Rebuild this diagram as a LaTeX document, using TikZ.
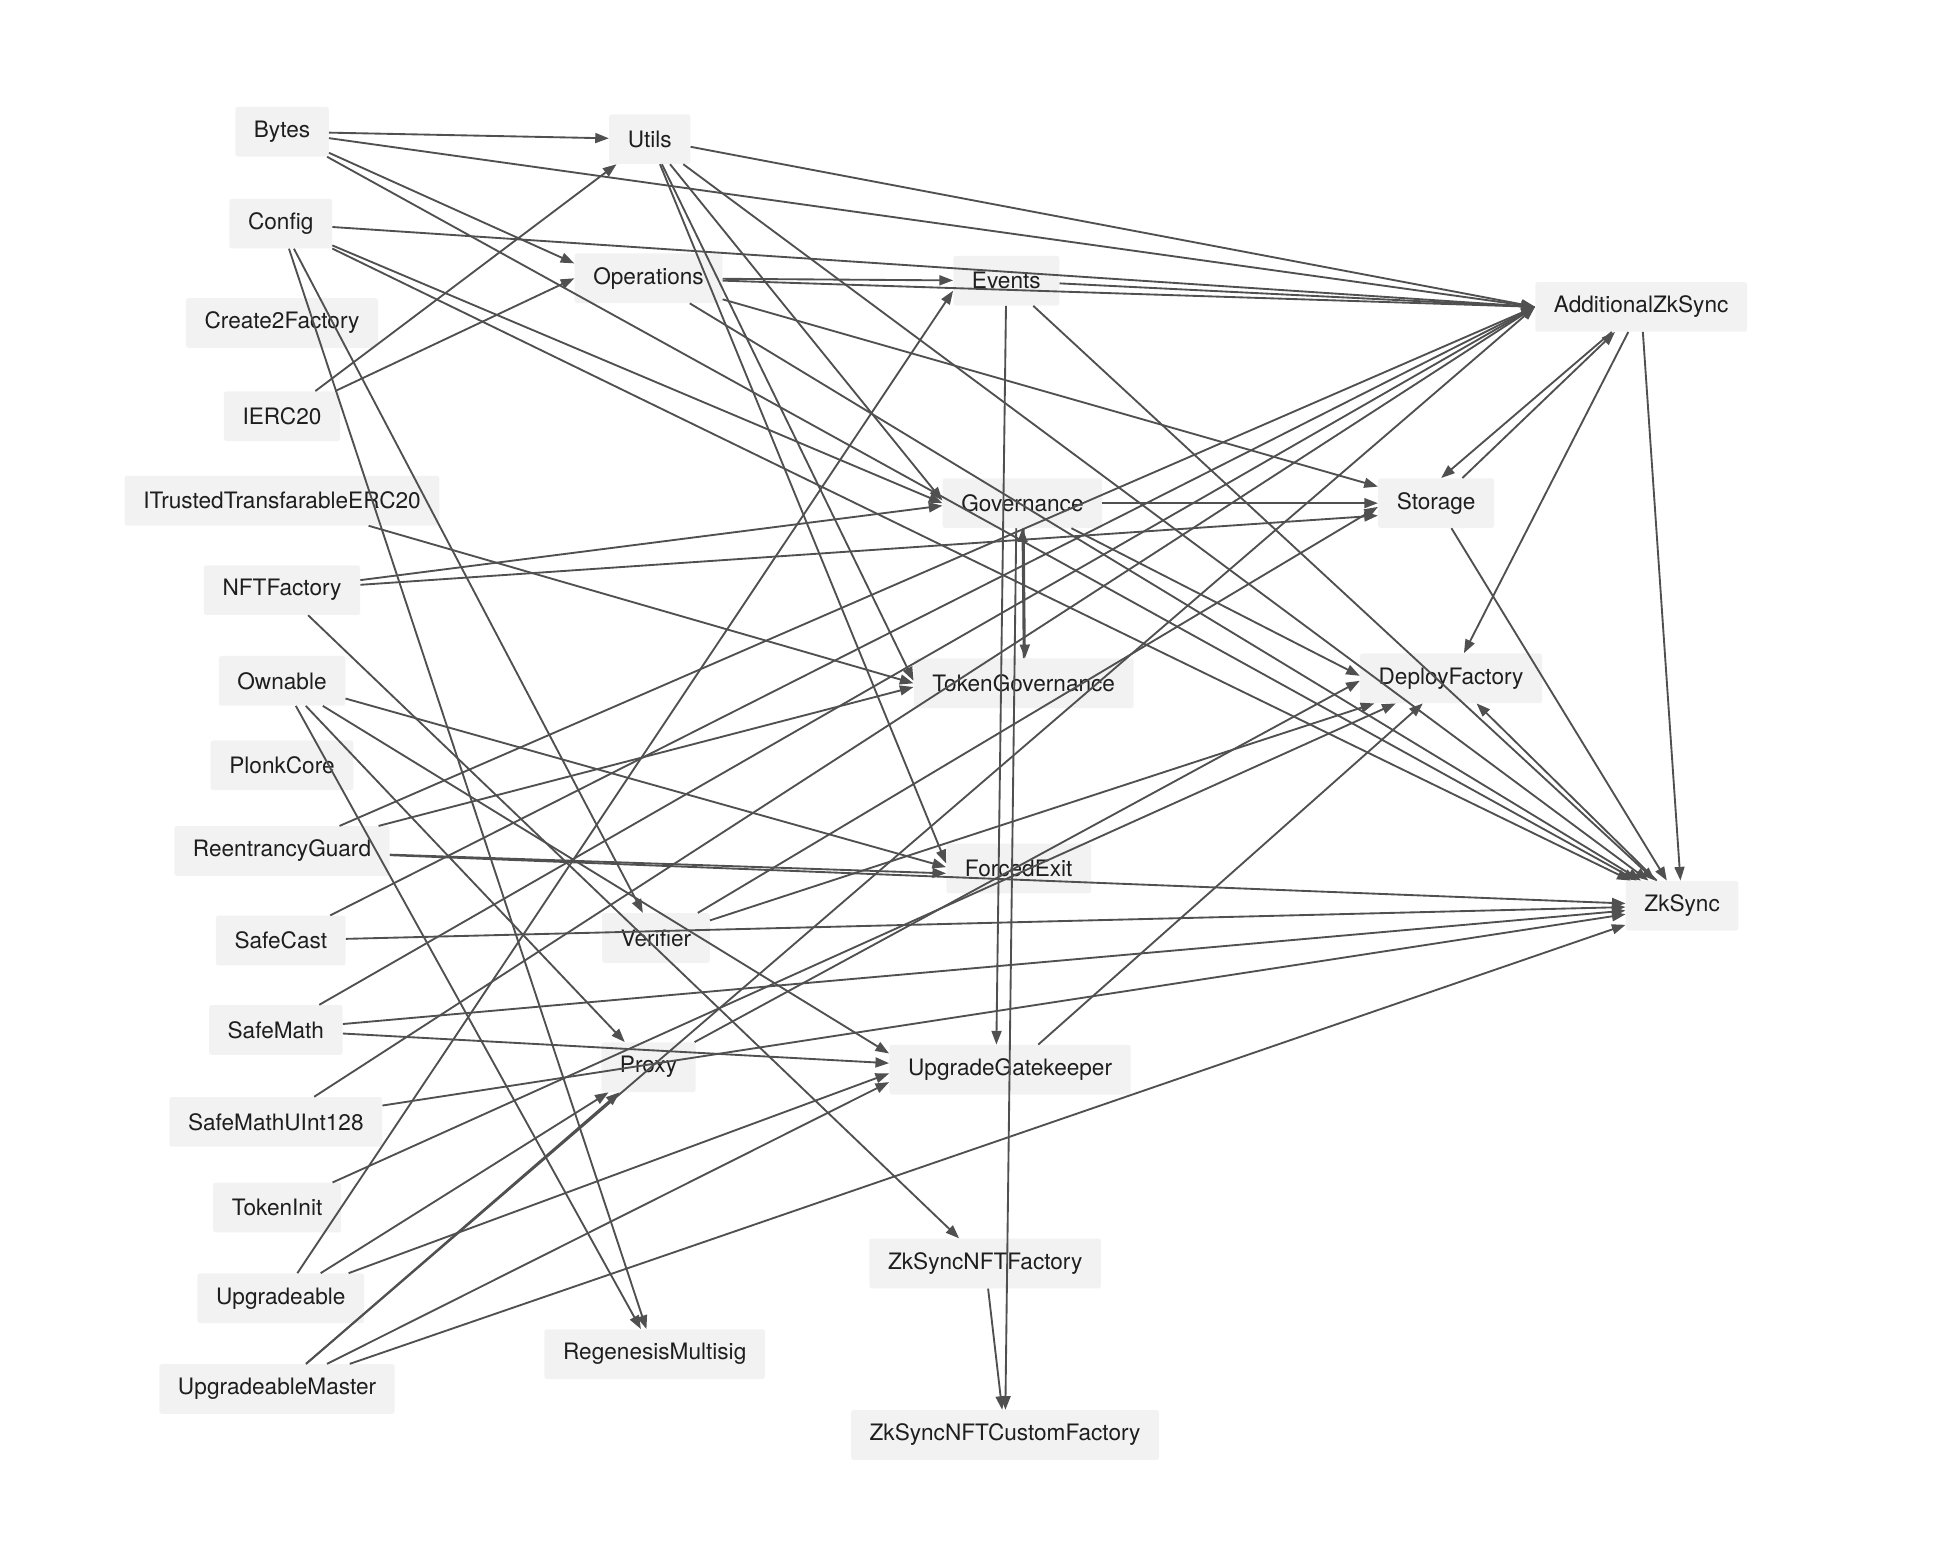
\documentclass[tikz,border=0pt]{standalone}
\usepackage{fontspec}
\setmainfont{TeX Gyre Heros}
\usetikzlibrary{arrows.meta}
\definecolor{edgec}{RGB}{80,80,80}
\definecolor{nodef}{RGB}{242,242,242}
\definecolor{textc}{RGB}{30,30,30}
\begin{document}
\begin{tikzpicture}[x=1pt,y=-1pt,
  box/.style={fill=nodef, rounded corners=2pt, minimum height=40pt, inner xsep=15pt, inner ysep=0pt, text=textc, font=\fontsize{18.2}{22}\selectfont},
  edge/.style={draw=edgec, line width=1.5pt, -{Triangle[length=11pt,width=8pt]}}]
\useasboundingbox (0,0) rectangle (1568,1257);
% nodes
\node[box] (Bytes) at (227,106) {Bytes};
\node[box] (Utils) at (523,112) {Utils};
\node[box] (Config) at (226,180) {Config};
\node[box] (Operations) at (522,224) {Operations};
\node[box] (Events) at (810,226) {Events};
\node[box] (AZS) at (1321,247) {AdditionalZkSync};
\node[box] (C2F) at (227,260) {Create2Factory};
\node[box] (IERC20) at (227,335) {IERC20};
\node[box] (ITTE) at (227,403) {ITrustedTransfarableERC20};
\node[box] (Governance) at (823,405) {Governance};
\node[box] (Storage) at (1156,405) {Storage};
\node[box] (NFTFactory) at (227,475) {NFTFactory};
\node[box] (Ownable) at (227,548) {Ownable};
\node[box] (DF) at (1168,546) {DeployFactory};
\node[box] (TokenGov) at (824,550) {TokenGovernance};
\node[box] (PlonkCore) at (227,616) {PlonkCore};
\node[box] (RG) at (227,685) {ReentrancyGuard};
\node[box] (ForcedExit) at (820,699) {ForcedExit};
\node[box] (ZkSync) at (1354,729) {ZkSync};
\node[box] (SafeCast) at (226,757) {SafeCast};
\node[box] (Verifier) at (528,755) {Verifier};
\node[box] (SafeMath) at (222,829) {SafeMath};
\node[box] (Proxy) at (522,859) {Proxy};
\node[box] (UG) at (813,861) {UpgradeGatekeeper};
\node[box] (SMU) at (222,903) {SafeMathUInt128};
\node[box] (TokenInit) at (223,972) {TokenInit};
\node[box] (ZNF) at (793,1017) {ZkSyncNFTFactory};
\node[box] (Upgradeable) at (226,1045) {Upgradeable};
\node[box] (Regenesis) at (527,1090) {RegenesisMultisig};
\node[box] (UM) at (223,1118) {UpgradeableMaster};
\node[box] (ZNCF) at (809,1155) {ZkSyncNFTCustomFactory};
% edges
\draw[edge] (Bytes) -- (Utils);
\draw[edge] (Bytes) -- (AZS.west);
\draw[edge] (Bytes) -- ([yshift=12pt]Operations.west);
\draw[edge] (Bytes) -- (ZkSync);
\draw[edge] (IERC20) -- (Utils);
\draw[edge] (IERC20) -- (Operations.west);
\draw[edge] (Config) -- (AZS.west);
\draw[edge] (Config) -- (Governance.west);
\draw[edge] (Config) -- (ZkSync);
\draw[edge] (Config) -- (Verifier);
\draw[edge] (Config) -- (Regenesis);
\draw[edge] (Utils) -- (AZS.west);
\draw[edge] (Utils) -- ([yshift=4pt]ForcedExit.west);
\draw[edge] (Utils) -- ([yshift=2pt]TokenGov.west);
\draw[edge] (Utils) -- ([yshift=2pt]Governance.west);
\draw[edge] (Utils) -- (ZkSync);
\draw[edge] (Operations) -- (Events);
\draw[edge] (Operations) -- (AZS.west);
\draw[edge] (Operations) -- (Storage);
\draw[edge] (Operations) -- (ZkSync);
\draw[edge] (Events) -- (AZS.west);
\draw[edge] (Events) -- (ZkSync);
\draw[edge] (Events) -- ([xshift=-11pt]UG.north);
\draw[edge] (Upgradeable) -- ([yshift=-8pt]Events.west);
\draw[edge] (Upgradeable) -- (Proxy);
\draw[edge] (Upgradeable) -- ([yshift=-3pt]UG.west);
\draw[edge] (UM) -- (Proxy);
\draw[edge] (UM) -- (AZS.west);
\draw[edge] (UM) -- ([yshift=-10pt]UG.west);
\draw[edge] (UM) -- (ZkSync);
\draw[edge] (Ownable) -- ([yshift=1pt]ForcedExit.west);
\draw[edge] (Ownable) -- (Regenesis);
\draw[edge] (Ownable) -- (Proxy);
\draw[edge] (Ownable) -- ([yshift=13pt]UG.west);
\draw[edge] (RG) -- (AZS.west);
\draw[edge] (RG) -- ([yshift=-3pt]TokenGov.west);
\draw[edge] (RG) -- ([yshift=-4pt]ForcedExit.west);
\draw[edge] (RG) -- (ZkSync);
\draw[edge] (SafeCast) -- (AZS.west);
\draw[edge] (SafeCast) -- (ZkSync);
\draw[edge] (SafeMath) -- (AZS.west);
\draw[edge] (SafeMath) -- (ZkSync);
\draw[edge] (SafeMath) -- (UG);
\draw[edge] (SMU) -- (AZS.west);
\draw[edge] (SMU) -- (ZkSync);
\draw[edge] (TokenInit) -- (DF);
\draw[edge] (Verifier) -- (DF);
\draw[edge] (Verifier) -- ([yshift=-3pt]Storage.west);
\draw[edge] (Proxy) -- ([yshift=-2pt]DF.west);
\draw[edge] (UG) -- (DF);
\draw[edge] (Governance) -- (Storage);
\draw[edge] ([xshift=1pt]Governance.south) -- ([xshift=1pt]TokenGov.north);
\draw[edge] (TokenGov.north) -- (Governance.south);
\draw[edge] (Governance) -- ([yshift=2pt]DF.west);
\draw[edge] ([xshift=-5pt]Governance.south) -- (ZNCF);
\draw[edge] (NFTFactory) -- ([yshift=-2pt]Governance.west);
\draw[edge] (NFTFactory) -- ([yshift=-10pt]Storage.west);
\draw[edge] (NFTFactory) -- (ZNF);
\draw[edge] (ITTE) -- (TokenGov.west);
\draw[edge] (Storage) -- (AZS);
\draw[edge] (AZS) -- ([xshift=4pt]Storage.north);
\draw[edge] (Storage) -- (ZkSync);
\draw[edge] (AZS) -- (DF);
\draw[edge] (AZS) -- (ZkSync);
\draw[edge] (ZkSync) -- (DF);
\draw[edge] (ZNF) -- (ZNCF);
\end{tikzpicture}
\end{document}
